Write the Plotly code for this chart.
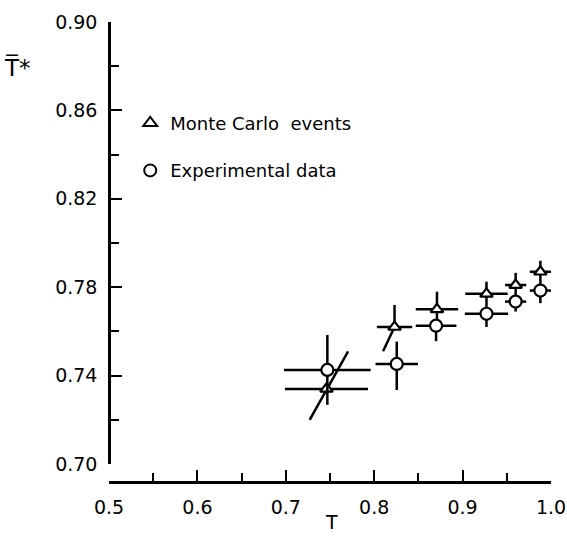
import plotly.graph_objects as go

# ---- data ----
mc_x = [0.746, 0.823, 0.871, 0.927, 0.960, 0.988]
mc_y = [0.734, 0.762, 0.770, 0.777, 0.781, 0.787]
mc_xerr = [0.047, 0.020, 0.024, 0.024, 0.012, 0.012]
mc_yerr_plus = [0.0, 0.010, 0.008, 0.0055, 0.0055, 0.005]
mc_yerr_minus = [0.0, 0.0, 0.0074, 0.009, 0.0075, 0.0085]
# slanted (correlated) error lines on the first two Monte Carlo points
slant_idx = [0, 1]
slant_dx_lo = [-0.019, -0.013]
slant_dy_lo = [-0.014, -0.011]
slant_dx_hi = [0.0245, 0.0]
slant_dy_hi = [0.017, 0.0]

ex_x = [0.747, 0.8255, 0.870, 0.927, 0.960, 0.988]
ex_y = [0.7426, 0.7453, 0.7626, 0.768, 0.7735, 0.7785]
ex_xerr = [0.049, 0.024, 0.023, 0.0245, 0.012, 0.012]
ex_yerr_plus = [0.0158, 0.0101, 0.0, 0.0, 0.0, 0.0]
ex_yerr_minus = [0.0158, 0.0118, 0.007, 0.006, 0.0045, 0.0057]

x_ticks = [0.5, 0.6, 0.7, 0.8, 0.9, 1.0]
y_ticks = [0.70, 0.74, 0.78, 0.82, 0.86, 0.90]

FONT = "DejaVu Sans"
LW = 2.5

fig = go.Figure()

# slanted error lines
for k, i in enumerate(slant_idx):
    fig.add_trace(go.Scatter(
        x=[mc_x[i] + slant_dx_lo[k], mc_x[i] + slant_dx_hi[k]],
        y=[mc_y[i] + slant_dy_lo[k], mc_y[i] + slant_dy_hi[k]],
        mode="lines", line=dict(color="black", width=LW),
        showlegend=False, hoverinfo="skip"))

fig.add_trace(go.Scatter(
    x=mc_x, y=mc_y, mode="markers", name="Monte Carlo\u00a0 events",
    legendgroup="a",
    marker=dict(symbol="triangle-up", size=11, color="white",
                line=dict(width=2.2, color="black")),
    error_x=dict(type="data", array=mc_xerr, color="black", thickness=LW, width=0),
    error_y=dict(type="data", array=mc_yerr_plus, arrayminus=mc_yerr_minus,
                 color="black", thickness=LW, width=0),
))

fig.add_trace(go.Scatter(
    x=ex_x, y=ex_y, mode="markers", name="Experimental data",
    legendgroup="b",
    marker=dict(symbol="circle", size=12, color="white",
                line=dict(width=2.2, color="black")),
    error_x=dict(type="data", array=ex_xerr, color="black", thickness=LW, width=0),
    error_y=dict(type="data", array=ex_yerr_plus, arrayminus=ex_yerr_minus,
                 color="black", thickness=LW, width=0),
))

fig.update_layout(
    width=567, height=536,
    margin=dict(l=109, r=16, t=22, b=54, autoexpand=False),
    paper_bgcolor="white", plot_bgcolor="white",
    font=dict(family=FONT, color="black", size=19),
    legend=dict(x=0.048, y=0.82, xanchor="left", yanchor="top",
                font=dict(family=FONT, size=18, color="black"),
                bgcolor="rgba(0,0,0,0)", tracegroupgap=21,
                traceorder="grouped", itemsizing="constant"),
    xaxis=dict(range=[0.5, 1.0], domain=[0, 1], anchor="free", position=0,
               automargin=False,
               showline=True, linecolor="black", linewidth=LW,
               showgrid=False, zeroline=False,
               tickmode="array", tickvals=x_ticks,
               ticktext=["%.1f" % v for v in x_ticks],
               ticks="inside", ticklen=11, tickwidth=2, tickcolor="black",
               minor=dict(ticks="inside", ticklen=8, tickwidth=2, tickcolor="black",
                          dtick=0.05, tick0=0.5, showgrid=False),
               ticklabelstandoff=7,
               tickfont=dict(family=FONT, size=19)),
    yaxis=dict(range=[0.70, 0.90], domain=[0.039, 1], anchor="free", position=0,
               automargin=False,
               showline=True, linecolor="black", linewidth=LW,
               showgrid=False, zeroline=False,
               tickmode="array", tickvals=y_ticks,
               ticktext=["%.2f" % v for v in y_ticks],
               ticks="inside", ticklen=11, tickwidth=2, tickcolor="black",
               minor=dict(ticks="inside", ticklen=8, tickwidth=2, tickcolor="black",
                          dtick=0.02, tick0=0.70, showgrid=False),
               ticklabelstandoff=7,
               tickfont=dict(family=FONT, size=19)),
    annotations=[
        dict(text="T\u0305*", xref="paper", yref="paper", x=-0.208, y=0.902,
             xanchor="center", yanchor="middle",
             showarrow=False, font=dict(family=FONT, size=23, color="black")),
        dict(text="T", xref="paper", yref="paper", x=0.503, y=-0.088,
             xanchor="center", yanchor="middle",
             showarrow=False, font=dict(family=FONT, size=19, color="black")),
    ],
)

fig.write_html("out.html",
               config={"displayModeBar": False},
               post_script="document.body.style.margin='0';document.body.style.padding='0';")
